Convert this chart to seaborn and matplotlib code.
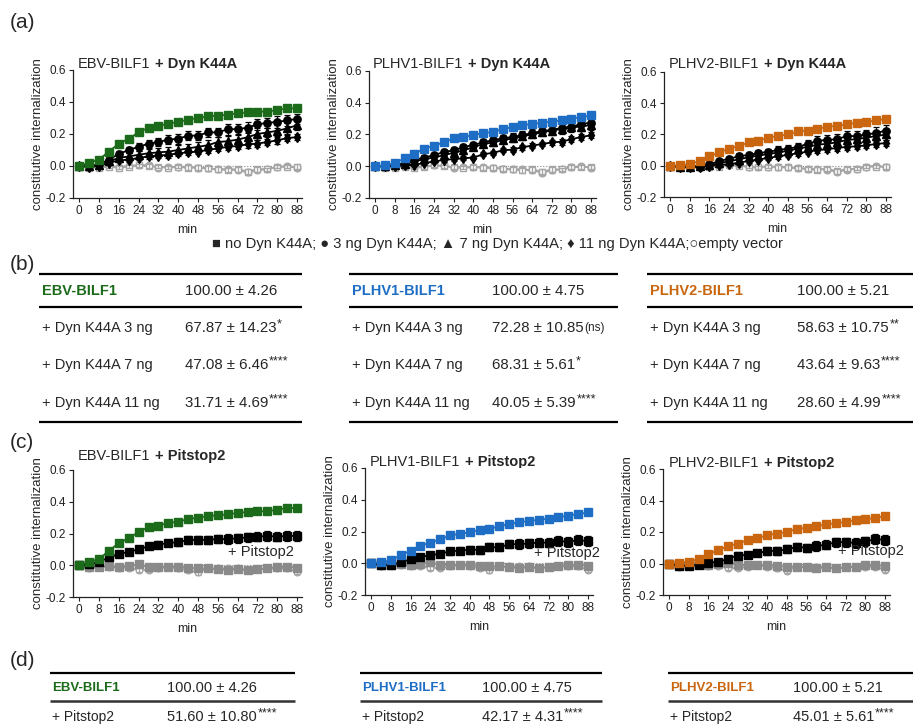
import matplotlib
matplotlib.use("Agg")
import matplotlib.pyplot as plt
import seaborn as sns

sns.set_theme(style="ticks")
plt.rcParams['font.family'] = ['Liberation Sans', 'DejaVu Sans']
plt.rcParams['axes.unicode_minus'] = False

# time points (min)
minutes = [0, 4, 8, 12, 16, 20, 24, 28, 32, 36, 40, 44, 48, 52, 56, 60, 64, 68, 72, 76, 80, 84, 88]

# (a) EBV-BILF1 + Dyn K44A
ebv_ctrl = [0.00, 0.02, 0.04, 0.09, 0.14, 0.17, 0.21, 0.24, 0.25, 0.265, 0.275, 0.29, 0.30, 0.31, 0.315, 0.32, 0.33, 0.335, 0.34, 0.34, 0.35, 0.36, 0.36]
ebv_dyn3 = [0.00, 0.00, 0.01, 0.04, 0.075, 0.10, 0.12, 0.14, 0.15, 0.165, 0.17, 0.19, 0.19, 0.21, 0.21, 0.23, 0.23, 0.24, 0.26, 0.27, 0.275, 0.285, 0.295]
ebv_dyn7 = [0.00, 0.00, 0.005, 0.03, 0.05, 0.06, 0.07, 0.08, 0.085, 0.09, 0.10, 0.11, 0.12, 0.13, 0.15, 0.155, 0.165, 0.18, 0.20, 0.21, 0.22, 0.235, 0.255]
ebv_dyn11 = [0.00, -0.005, 0.00, 0.02, 0.035, 0.04, 0.05, 0.06, 0.065, 0.07, 0.08, 0.085, 0.09, 0.10, 0.11, 0.12, 0.125, 0.135, 0.14, 0.15, 0.16, 0.175, 0.18]
ebv_err = [0.005, 0.01, 0.01, 0.015, 0.02, 0.02, 0.025, 0.025, 0.025, 0.03, 0.03, 0.03, 0.03, 0.03, 0.03, 0.035, 0.03, 0.035, 0.035, 0.03, 0.035, 0.035, 0.03]

# (a) PLHV1-BILF1 + Dyn K44A
plhv1_ctrl = [0.00, 0.005, 0.02, 0.05, 0.08, 0.11, 0.13, 0.15, 0.175, 0.185, 0.195, 0.21, 0.215, 0.235, 0.245, 0.26, 0.265, 0.275, 0.28, 0.29, 0.30, 0.31, 0.32]
plhv1_dyn3 = [0.00, 0.005, 0.01, 0.02, 0.04, 0.055, 0.07, 0.09, 0.10, 0.12, 0.135, 0.15, 0.165, 0.175, 0.185, 0.195, 0.21, 0.22, 0.23, 0.24, 0.25, 0.265, 0.275]
plhv1_dyn7 = [0.00, 0.00, 0.005, 0.015, 0.03, 0.045, 0.055, 0.07, 0.085, 0.10, 0.12, 0.14, 0.15, 0.165, 0.175, 0.19, 0.20, 0.215, 0.225, 0.235, 0.245, 0.25, 0.26]
plhv1_dyn11 = [0.00, 0.00, 0.00, 0.005, 0.01, 0.02, 0.03, 0.04, 0.045, 0.05, 0.055, 0.075, 0.085, 0.10, 0.105, 0.12, 0.13, 0.14, 0.15, 0.155, 0.17, 0.185, 0.195]
plhv1_err = [0.005, 0.005, 0.01, 0.01, 0.015, 0.015, 0.015, 0.02, 0.02, 0.02, 0.02, 0.02, 0.02, 0.02, 0.025, 0.025, 0.025, 0.025, 0.03, 0.03, 0.03, 0.03, 0.03]

# (a) PLHV2-BILF1 + Dyn K44A
plhv2_ctrl = [0.00, 0.005, 0.01, 0.03, 0.06, 0.085, 0.11, 0.125, 0.15, 0.16, 0.18, 0.19, 0.20, 0.22, 0.225, 0.235, 0.25, 0.255, 0.265, 0.275, 0.28, 0.29, 0.30]
plhv2_dyn3 = [0.00, -0.01, -0.01, -0.005, 0.01, 0.03, 0.045, 0.06, 0.07, 0.08, 0.09, 0.10, 0.11, 0.12, 0.14, 0.16, 0.165, 0.17, 0.19, 0.19, 0.20, 0.21, 0.225]
plhv2_dyn7 = [0.00, -0.005, -0.005, 0.00, 0.005, 0.015, 0.03, 0.04, 0.055, 0.065, 0.075, 0.085, 0.095, 0.11, 0.12, 0.135, 0.14, 0.15, 0.165, 0.17, 0.18, 0.19, 0.20]
plhv2_dyn11 = [0.00, -0.005, -0.01, -0.01, 0.00, 0.005, 0.01, 0.02, 0.03, 0.04, 0.05, 0.06, 0.07, 0.08, 0.09, 0.10, 0.105, 0.115, 0.12, 0.125, 0.13, 0.14, 0.145]
plhv2_err = [0.005, 0.005, 0.01, 0.01, 0.01, 0.015, 0.015, 0.02, 0.02, 0.02, 0.02, 0.025, 0.025, 0.025, 0.025, 0.03, 0.03, 0.03, 0.03, 0.03, 0.03, 0.035, 0.035]

# empty vector (grey, open symbols)
vec_only = [0.00, -0.01, -0.01, -0.005, -0.01, -0.005, 0.005, 0.00, -0.005, -0.01, -0.005, -0.01, -0.01, -0.015, -0.02, -0.025, -0.02, -0.035, -0.02, -0.02, -0.005, -0.005, -0.005]
vec_dyn = [0.00, -0.005, -0.005, 0.00, -0.005, 0.00, 0.005, 0.005, -0.01, -0.005, -0.005, -0.005, -0.01, -0.015, -0.02, -0.02, -0.025, -0.04, -0.025, -0.02, -0.005, 0.00, -0.01]
vec_err = [0.005, 0.01, 0.01, 0.01, 0.01, 0.01, 0.01, 0.01, 0.01, 0.01, 0.01, 0.015, 0.015, 0.015, 0.015, 0.015, 0.015, 0.015, 0.015, 0.01, 0.01, 0.01, 0.015]

# (c) + Pitstop2
ebv_pit = [0.00, 0.005, 0.02, 0.05, 0.07, 0.085, 0.10, 0.12, 0.13, 0.14, 0.145, 0.16, 0.16, 0.16, 0.165, 0.165, 0.17, 0.175, 0.18, 0.185, 0.18, 0.185, 0.185]
plhv1_pit = [0.00, -0.01, -0.01, 0.005, 0.025, 0.04, 0.05, 0.06, 0.075, 0.08, 0.085, 0.085, 0.10, 0.10, 0.12, 0.12, 0.125, 0.13, 0.13, 0.14, 0.135, 0.145, 0.14]
plhv2_pit = [0.00, -0.015, -0.015, -0.01, 0.005, 0.01, 0.03, 0.05, 0.055, 0.065, 0.08, 0.08, 0.09, 0.105, 0.10, 0.11, 0.12, 0.135, 0.135, 0.13, 0.14, 0.155, 0.15]
pit_err = [0.005, 0.01, 0.01, 0.015, 0.015, 0.02, 0.02, 0.02, 0.02, 0.02, 0.025, 0.025, 0.025, 0.025, 0.025, 0.03, 0.03, 0.03, 0.03, 0.03, 0.03, 0.03, 0.03]
vec_pit = [0.00, -0.01, -0.01, -0.005, -0.01, -0.005, 0.005, -0.01, -0.01, -0.01, -0.01, -0.015, -0.02, -0.02, -0.025, -0.03, -0.025, -0.03, -0.025, -0.02, -0.01, -0.01, -0.015]
vec_open = [0.00, -0.02, -0.01, -0.01, -0.015, -0.015, -0.03, -0.03, -0.02, -0.01, -0.02, -0.03, -0.045, -0.02, -0.02, -0.02, -0.02, -0.03, -0.025, -0.02, -0.02, -0.02, -0.04]

# tables
viruses = ["EBV-BILF1", "PLHV1-BILF1", "PLHV2-BILF1"]
virus_colors = ["#1c6b1a", "#1f6ec6", "#c9660f"]
ctrl_vals = ["100.00 ± 4.26", "100.00 ± 4.75", "100.00 ± 5.21"]
dyn_rows = ["+ Dyn K44A 3 ng", "+ Dyn K44A 7 ng", "+ Dyn K44A 11 ng"]
dyn_vals = [["67.87 ± 14.23", "47.08 ± 6.46", "31.71 ± 4.69"],
            ["72.28 ± 10.85", "68.31 ± 5.61", "40.05 ± 5.39"],
            ["58.63 ± 10.75", "43.64 ± 9.63", "28.60 ± 4.99"]]
dyn_sig = [["*", "****", "****"],
           ["(ns)", "*", "****"],
           ["**", "****", "****"]]
pit_vals = ["51.60 ± 10.80", "42.17 ± 4.31", "45.01 ± 5.61"]
pit_sig = ["****", "****", "****"]

W, H = 913, 728
fig = plt.figure(figsize=(W / 100, H / 100), dpi=100)


def px_axes(left, top, right, bottom):
    return fig.add_axes([left / W, 1 - bottom / H, (right - left) / W, (bottom - top) / H])


def add_series(ax, vals, color, marker, face, err=None, ms=5.3, z=3):
    sns.lineplot(x=minutes, y=vals, ax=ax, color=color, marker=marker, markersize=ms,
                 markerfacecolor=face, markeredgecolor=color, markeredgewidth=1.0,
                 linewidth=1.3, errorbar=None, zorder=z)
    if err is not None:
        ax.errorbar(minutes, vals, yerr=err, fmt='none', ecolor=color, elinewidth=0.9,
                    capsize=2.2, capthick=0.9, zorder=z)


def style_axes(ax):
    ax.axhline(0, color="#888888", ls=":", lw=0.8, zorder=1)
    ax.set_xlim(-2.5, 90)
    ax.set_ylim(-0.2, 0.6)
    ax.set_xticks(minutes[::2])
    ax.set_yticks([-0.2, 0.0, 0.2, 0.4, 0.6])
    ax.yaxis.set_major_formatter(matplotlib.ticker.FormatStrFormatter('%.1f'))
    sns.despine(ax=ax)
    for s in ["left", "bottom"]:
        ax.spines[s].set_linewidth(0.9)
        ax.spines[s].set_color("#222222")
    ax.tick_params(labelsize=8.5, length=3, width=0.8, pad=2, colors="#222222")
    ax.set_ylabel("constitutive internalization", fontsize=9.5, labelpad=1)
    ax.set_xlabel("min", fontsize=9, labelpad=5)


# overlay axes in pixel coordinates for text and tables
ov = fig.add_axes([0, 0, 1, 1])
ov.set_xlim(0, W)
ov.set_ylim(H, 0)
ov.axis("off")


def title(x, y, plain, bold):
    t = ov.text(x, y, plain, fontsize=10.5, va="center", ha="left")
    ov.annotate(bold, xy=(1, 0.5), xycoords=t, xytext=(3, 0), textcoords="offset points",
                fontsize=10.5, fontweight="bold", va="center", ha="left")


# ---- row (a): Dyn K44A
dyn_sets = [
    (ebv_ctrl, ebv_dyn3, ebv_dyn7, ebv_dyn11, ebv_err),
    (plhv1_ctrl, plhv1_dyn3, plhv1_dyn7, plhv1_dyn11, plhv1_err),
    (plhv2_ctrl, plhv2_dyn3, plhv2_dyn7, plhv2_dyn11, plhv2_err),
]
a_boxes = [(73, 70, 302, 198), (369, 71, 596, 198), (664, 72, 891, 197)]
a_titles = [(78, 64), (373, 64), (669, 64)]
for i, (ctrl, d3, d7, d11, err) in enumerate(dyn_sets):
    ax = px_axes(*a_boxes[i])
    add_series(ax, vec_dyn, "#a6a6a6", "o", "white", vec_err, ms=4.8, z=2)
    add_series(ax, vec_only, "#a6a6a6", "s", "white", vec_err, ms=4.8, z=2)
    add_series(ax, d11, "black", "d", "black", [e * 0.6 for e in err], z=3)
    add_series(ax, d7, "black", "^", "black", err, z=3)
    add_series(ax, d3, "black", "o", "black", err, z=3)
    add_series(ax, ctrl, virus_colors[i], "s", virus_colors[i], None, z=4)
    style_axes(ax)
    title(a_titles[i][0], a_titles[i][1], viruses[i], "+ Dyn K44A")

ov.text(498, 244, "■ no Dyn K44A; ● 3 ng Dyn K44A; ▲ 7 ng Dyn K44A; ♦ 11 ng Dyn K44A;○empty vector",
        fontsize=10.6, ha="center", va="center")

# ---- row (c): Pitstop2
pit_sets = [(ebv_ctrl, ebv_pit), (plhv1_ctrl, plhv1_pit), (plhv2_ctrl, plhv2_pit)]
c_boxes = [(73, 470, 302, 597), (365, 468, 593, 595), (663, 469, 890, 595)]
c_titles = [(78, 456), (370, 462), (669, 463)]
pit_label = [(60, 0.083), (66, 0.065), (69, 0.077)]
for i, (ctrl, pit) in enumerate(pit_sets):
    ax = px_axes(*c_boxes[i])
    add_series(ax, vec_open, "#a6a6a6", "o", "white", vec_err, ms=4.8, z=2)
    add_series(ax, vec_pit, "#8a8a8a", "s", "#8a8a8a", vec_err, z=2)
    add_series(ax, pit, "black", "s", "black", pit_err, z=3)
    add_series(ax, ctrl, virus_colors[i], "s", virus_colors[i], None, z=4)
    style_axes(ax)
    ax.text(pit_label[i][0], pit_label[i][1], "+ Pitstop2", fontsize=10.5, va="center",
            ha="left", clip_on=False, zorder=6)
    title(c_titles[i][0], c_titles[i][1], viruses[i], "+ Pitstop2")

# panel letters
for lab, x, y in [("(a)", 10, 22), ("(b)", 10, 265), ("(c)", 10, 443), ("(d)", 10, 660)]:
    ov.text(x, y, lab, fontsize=15, va="center", ha="left")


def sup(t, s):
    if s == "(ns)":
        ov.annotate(s, xy=(1, 0), xycoords=t, xytext=(0.5, 1), textcoords="offset points",
                    fontsize=8.5, va="bottom", ha="left")
    else:
        ov.annotate(s, xy=(1, 1), xycoords=t, xytext=(0.5, 2), textcoords="offset points",
                    fontsize=9, va="top", ha="left")


# ---- table (b)
b_span = [(39, 302), (349, 618), (647, 913)]
b_lab_x = [42, 352, 650]
b_val_x = [185, 492, 797]
rows_y = [328, 365, 403]
for i in range(3):
    x0, x1 = b_span[i]
    for yy in [274, 307, 422]:
        ov.plot([x0, x1], [yy, yy], color="black", lw=1.6, solid_capstyle="butt")
    ov.text(b_lab_x[i], 291, viruses[i], color=virus_colors[i], fontsize=10.5,
            fontweight="bold", va="center")
    ov.text(b_val_x[i], 291, ctrl_vals[i], fontsize=10.8, va="center")
    for j in range(3):
        ov.text(b_lab_x[i], rows_y[j], dyn_rows[j], fontsize=10.5, va="center")
        t = ov.text(b_val_x[i], rows_y[j], dyn_vals[i][j], fontsize=10.8, va="center")
        sup(t, dyn_sig[i][j])

# ---- table (d)
d_span = [(50, 295), (360, 602), (668, 913)]
d_lab_x = [52, 362, 670]
d_val_x = [167, 482, 793]
for i in range(3):
    x0, x1 = d_span[i]
    ov.plot([x0, x1], [673, 673], color="black", lw=1.6, solid_capstyle="butt")
    ov.plot([x0, x1], [701, 701], color="#333333", lw=1.8, solid_capstyle="butt")
    ov.text(d_lab_x[i], 688, viruses[i], color=virus_colors[i], fontsize=9.5,
            fontweight="bold", va="center")
    ov.text(d_val_x[i], 688, ctrl_vals[i], fontsize=10.5, va="center")
    ov.text(d_lab_x[i], 717, "+ Pitstop2", fontsize=10, va="center")
    t = ov.text(d_val_x[i], 717, pit_vals[i], fontsize=10.5, va="center")
    sup(t, pit_sig[i])

fig.savefig("out.png", dpi=100)
